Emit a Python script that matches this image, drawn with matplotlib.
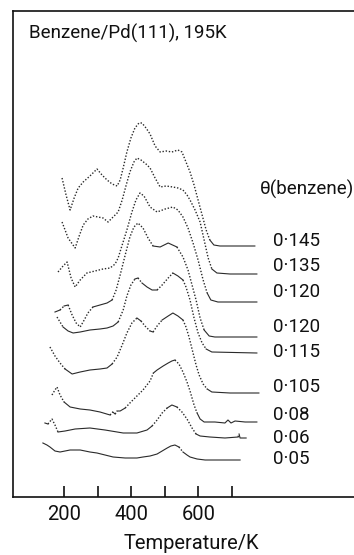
"""
Benzene/Pd(111) TPD-style traces at 195 K for a series of benzene coverages.
Each trace is stacked with its own baseline; steep pen strokes come out dotted.
"""
import matplotlib
matplotlib.use("Agg")
import matplotlib.pyplot as plt
import numpy as np

plt.rcParams["font.family"] = ["Roboto", "DejaVu Sans"]

# coverage labels, top to bottom
coverages = ["0·145", "0·135", "0·120", "0·120", "0·115", "0·105", "0·08", "0·06", "0·05"]
label_levels = [256, 231, 205, 170, 145, 110, 82, 59, 38]

# temperature (K) and stacked signal (arb. units) of every trace
T_145 = [194, 206, 218, 230, 242, 257, 277, 298, 313, 328, 343, 358, 367, 376, 387, 399, 411, 423,
         432, 444, 456, 471, 486, 504, 521, 539, 551, 563, 575, 587, 599, 611, 623, 634, 646, 664,
         709, 768]
S_145 = [319, 302, 287, 299, 309, 315, 321, 328, 322, 317, 313, 311, 317, 329, 345, 359, 369, 374,
         374, 369, 363, 351, 345, 346, 345, 347, 345, 335, 325, 312, 297, 282, 267, 257, 252, 251,
         251, 251]

T_135 = [194, 212, 233, 245, 257, 271, 286, 301, 316, 331, 346, 361, 373, 385, 396, 408, 417, 429,
         444, 456, 471, 486, 504, 524, 539, 554, 566, 575, 590, 605, 617, 629, 640, 655, 694, 774]
S_135 = [275, 259, 249, 261, 272, 278, 281, 280, 279, 275, 280, 285, 297, 312, 325, 335, 339, 337,
         333, 329, 319, 310, 311, 310, 309, 307, 302, 297, 287, 275, 257, 239, 228, 224, 223, 223]

T_120a = [182, 197, 209, 221, 233, 248, 268, 292, 316, 337, 352, 361, 373, 387, 402, 414, 426, 438,
          456, 477, 501, 524, 539, 554, 569, 584, 599, 614, 626, 637, 658, 774]
S_120a = [225, 231, 235, 219, 210, 217, 224, 226, 228, 229, 233, 239, 252, 267, 285, 297, 304, 301,
          290, 285, 288, 290, 287, 280, 269, 254, 237, 217, 204, 197, 195, 195]

T_120b = [173, 188, 200, 212, 224, 236, 248, 260, 271, 286, 307, 328, 343, 355, 367, 382, 396, 408,
          420, 435, 450, 465, 486, 510, 536, 554, 569, 581, 593, 605, 617, 632, 649, 774]
S_120b = [185, 187, 191, 192, 182, 174, 170, 177, 184, 190, 192, 194, 197, 207, 222, 242, 260, 270,
          274, 269, 259, 251, 250, 254, 250, 240, 227, 212, 197, 179, 167, 161, 160, 160]

T_115 = [179, 188, 197, 212, 227, 248, 277, 307, 328, 346, 361, 376, 387, 399, 411, 420, 432, 447,
         462, 477, 492, 510, 524, 539, 554, 563, 575, 587, 599, 611, 623, 640, 774]
S_115 = [180, 175, 170, 166, 164, 165, 167, 168, 169, 171, 175, 187, 201, 212, 218, 219, 214, 210,
         207, 207, 212, 219, 224, 221, 217, 210, 197, 179, 164, 154, 148, 145, 144]

T_105 = [158, 173, 188, 203, 224, 248, 277, 307, 328, 343, 358, 373, 387, 402, 417, 429, 441, 456,
         465, 477, 492, 510, 524, 539, 554, 563, 572, 584, 593, 602, 614, 626, 640, 694, 780]
S_105 = [150, 141, 134, 128, 123, 125, 127, 128, 129, 133, 140, 152, 164, 174, 179, 176, 171, 166,
         165, 171, 177, 181, 184, 181, 177, 170, 160, 144, 132, 122, 113, 108, 105, 104, 104]

T_08 = [164, 173, 179, 188, 200, 218, 248, 277, 307, 337, 345, 352, 358, 367, 382, 396, 417, 435,
        456, 466, 477, 495, 510, 521, 530, 542, 554, 566, 575, 587, 596, 605, 617, 649, 679, 688,
        697, 709, 739, 774]
S_08 = [102, 107, 110, 102, 95, 90, 88, 87, 85, 82, 85, 83, 86, 86, 89, 94, 101, 107,
        116, 124, 127, 131, 134, 136, 137, 133, 125, 115, 106, 92, 84, 78, 75, 75, 74, 77,
        74, 76, 75, 75]

T_06 = [143, 152, 164, 173, 182, 203, 233, 277, 322, 376, 417, 447, 462, 477, 492, 507, 521, 536,
        551, 566, 581, 593, 605, 634, 679, 718, 721, 724, 742]
S_06 = [74, 73, 78, 72, 65, 66, 68, 69, 67, 64, 64, 67, 71, 77, 84, 89, 92, 90,
        85, 78, 69, 63, 61, 60, 59, 60, 63, 59, 59]

T_05 = [137, 149, 158, 173, 188, 218, 248, 277, 298, 322, 346, 382, 417, 435, 456, 477, 492, 507,
        518, 530, 542, 554, 566, 575, 596, 620, 664, 724]
S_05 = [54, 52, 50, 46, 45, 47, 47, 45, 44, 42, 40, 39, 39, 40, 41, 43, 46, 49,
        51, 52, 50, 45, 42, 40, 38, 37, 37, 37]

traces = [(T_145, S_145), (T_135, S_135), (T_120a, S_120a), (T_120b, S_120b), (T_115, S_115),
          (T_105, S_105), (T_08, S_08), (T_06, S_06), (T_05, S_05)]
all_dotted = [True, True, True, False, False, False, False, False, False]

INK = "#2a2a2a"
PX_PER_K = 0.336  # horizontal scale used to judge how steep a pen stroke is
FS = 13.5


def draw_trace(ax, T, S, dotted):
    T = np.asarray(T, float)
    S = np.asarray(S, float)
    slope = np.abs(np.diff(S) / (np.diff(T) * PX_PER_K))
    steep = slope > 0.9 if not dotted else np.ones(len(slope), bool)
    # flat baseline at the high-temperature end is always drawn solid
    flat_tail = np.abs(S[1:] - S[-1]) < 4
    steep &= ~flat_tail
    start = 0
    for i in range(1, len(steep) + 1):
        if i == len(steep) or steep[i] != steep[start]:
            seg = slice(start, i + 1)
            if steep[start]:
                ax.plot(T[seg], S[seg], color=INK, lw=1.0, ls=(0, (1, 1.3)))
            else:
                ax.plot(T[seg], S[seg], color=INK, lw=0.8, ls="-")
            start = i


fig = plt.figure(figsize=(3.54, 5.55), dpi=100)
ax = fig.add_axes([13 / 354, 58 / 555, 348 / 354, 486 / 555])

for (T, S), dotted in zip(traces, all_dotted):
    draw_trace(ax, T, S, dotted)

for lab, lev in zip(coverages, label_levels):
    ax.text(822, lev, lab, fontsize=FS, va="center", ha="left", color="#111")
ax.text(783, 308, "θ(benzene)", fontsize=FS, va="center", ha="left", color="#111")
ax.text(96, 464, "Benzene/Pd(111), 195K", fontsize=FS, va="center", ha="left", color="#111")

ax.set_xlim(48, 1084)
ax.set_ylim(0, 486)
ax.set_xticks([200, 300, 400, 500, 600, 700])
ax.set_xticklabels(["200", "", "400", "", "600", ""])
ax.set_yticks([])
ax.tick_params(axis="x", direction="in", length=8, width=1.2, labelsize=14.5, pad=6, colors="#111")
ax.spines["right"].set_visible(False)
for sp in ("left", "top", "bottom"):
    ax.spines[sp].set_linewidth(1.2)
    ax.spines[sp].set_color("#111")
ax.set_xlabel("Temperature/K", fontsize=14.5, color="#111")
ax.xaxis.set_label_coords((191 - 13) / 348, -(534 - 497) / 486)

fig.savefig("out.png", dpi=100)
